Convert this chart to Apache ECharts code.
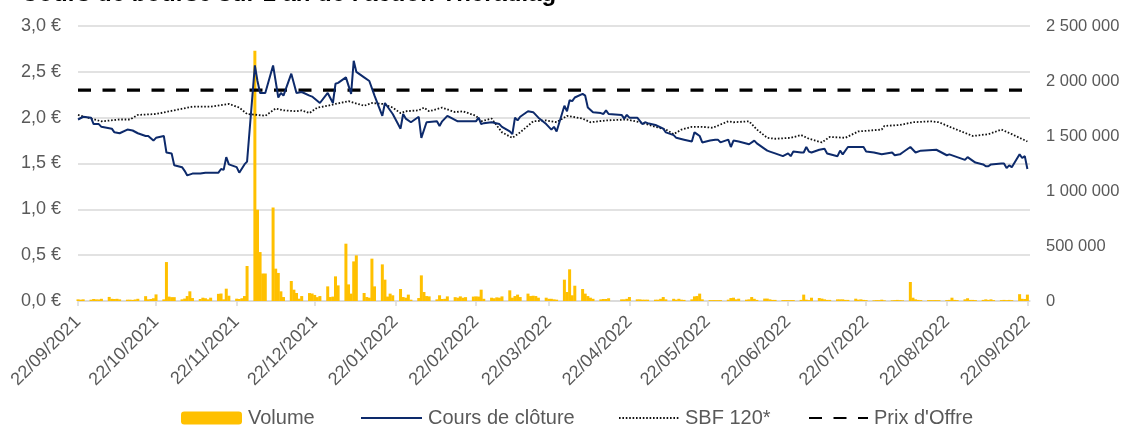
<!DOCTYPE html>
<html>
<head>
<meta charset="utf-8">
<script src="https://cdn.jsdelivr.net/npm/echarts@6/dist/echarts.min.js"></script>
<style>
  html, body { margin: 0; padding: 0; background: #fff; }
  #chart { width: 1131px; height: 426px; }
</style>
</head>
<body>
<div id="chart"></div>
<script>
// bornes de l'axe et jours fériés (Euronext)
const startDate = '2021-09-22'
const endDate = '2022-09-22'
const holidays = ['2022-04-15', '2022-04-18']
const tickDates = ['2021-09-22', '2021-10-22', '2021-11-22', '2021-12-22', '2022-01-22', '2022-02-22',
  '2022-03-22', '2022-04-22', '2022-05-22', '2022-06-22', '2022-07-22', '2022-08-22', '2022-09-22']

// volume journalier, une ligne par semaine
const volume = [
  15000, 12000, 15000,
  12000, 18000, 15000, 14000, 20000,
  37000, 20000, 18000, 20000, 15000,
  12000, 12000, 10000, 14000, 20000,
  44000, 15000, 18000, 25000, 60000,
  15000, 354000, 40000, 35000, 35000,
  15000, 22000, 45000, 88000, 27000,
  18000, 30000, 25000, 15000, 30000,
  65000, 68000, 15000, 112000, 48000,
  21000, 18000, 25000, 45000, 318000,
  2275000, 830000, 445000, 250000, 250000,
  850000, 294000, 255000, 88000, 36000,
  182000, 103000, 73000, 21000, 45000,
  72000, 68000, 55000, 35000, 45000,
  133000, 36000, 40000, 224000, 142000,
  521000, 151000, 67000, 360000, 415000,
  73000, 36000, 30000, 385000, 133000,
  333000, 194000, 40000, 67000, 52000,
  109000, 36000, 30000, 58000, 12000,
  27000, 233000, 82000, 45000, 42000,
  15000, 52000, 18000, 20000, 42000,
  35000, 30000, 42000, 30000, 35000,
  40000, 42000, 40000, 103000, 20000,
  30000, 25000, 33000, 30000, 42000,
  97000, 30000, 45000, 58000, 36000,
  67000, 45000, 48000, 45000, 30000,
  30000, 20000, 20000, 15000, 12000,
  194000, 82000, 288000, 52000, 139000,
  109000, 67000, 45000, 30000, 20000,
  15000, 18000, 18000, 25000,
  15000, 15000, 20000, 36000,
  15000, 15000, 12000, 12000, 12000,
  12000, 12000, 20000, 36000, 15000,
  20000, 12000, 20000, 12000, 10000,
  15000, 42000, 45000, 67000, 15000,
  8000, 8000, 8000, 8000, 8000,
  12000, 27000, 30000, 15000, 21000,
  12000, 15000, 36000, 20000, 10000,
  22000, 22000, 15000, 10000, 10000,
  8000, 8000, 8000, 8000, 8000,
  10000, 58000, 12000, 8000, 30000,
  27000, 22000, 15000, 10000, 10000,
  15000, 15000, 15000, 10000, 10000,
  21000, 12000, 15000, 10000, 8000,
  6000, 8000, 8000, 12000, 6000,
  6000, 8000, 10000, 8000, 6000,
  173000, 30000, 15000, 10000, 8000,
  8000, 8000, 8000, 8000, 8000,
  8000, 10000, 30000, 10000, 8000,
  15000, 25000, 10000, 10000, 8000,
  10000, 15000, 10000, 15000, 8000,
  8000, 10000, 8000, 10000, 8000,
  62000, 20000, 18000, 58000
]

// cours de clôture (points relevés)
const priceDates = [
  '2021-09-22', '2021-09-24', '2021-09-27', '2021-09-28', '2021-09-30', '2021-10-01', '2021-10-05', '2021-10-06',
  '2021-10-08', '2021-10-11', '2021-10-13', '2021-10-15', '2021-10-18', '2021-10-19', '2021-10-21', '2021-10-22',
  '2021-10-25', '2021-10-26', '2021-10-28', '2021-10-29', '2021-11-01', '2021-11-02', '2021-11-03', '2021-11-05',
  '2021-11-08', '2021-11-10', '2021-11-15', '2021-11-16', '2021-11-17', '2021-11-18', '2021-11-19', '2021-11-22',
  '2021-11-23', '2021-11-25', '2021-11-26', '2021-11-29', '2021-11-30', '2021-12-01', '2021-12-03', '2021-12-06',
  '2021-12-08', '2021-12-09', '2021-12-10', '2021-12-13', '2021-12-15', '2021-12-17', '2021-12-20', '2021-12-21',
  '2021-12-24', '2021-12-27', '2021-12-29', '2021-12-30', '2021-12-31', '2022-01-03', '2022-01-05', '2022-01-06',
  '2022-01-07', '2022-01-10', '2022-01-12', '2022-01-14', '2022-01-17', '2022-01-18', '2022-01-21', '2022-01-24',
  '2022-01-25', '2022-01-26', '2022-01-28', '2022-01-31', '2022-02-01', '2022-02-03', '2022-02-07', '2022-02-08',
  '2022-02-09', '2022-02-11', '2022-02-15', '2022-02-22', '2022-02-23', '2022-02-24', '2022-02-25', '2022-02-28',
  '2022-03-03', '2022-03-04', '2022-03-07', '2022-03-08', '2022-03-09', '2022-03-10', '2022-03-11', '2022-03-14',
  '2022-03-16', '2022-03-18', '2022-03-21', '2022-03-23', '2022-03-24', '2022-03-25', '2022-03-28', '2022-03-29',
  '2022-03-30', '2022-03-31', '2022-04-01', '2022-04-04', '2022-04-05', '2022-04-06', '2022-04-08', '2022-04-11',
  '2022-04-12', '2022-04-13', '2022-04-14', '2022-04-19', '2022-04-20', '2022-04-21', '2022-04-22', '2022-04-25',
  '2022-04-27', '2022-04-28', '2022-04-29', '2022-05-02', '2022-05-05', '2022-05-06', '2022-05-09', '2022-05-10',
  '2022-05-13', '2022-05-16', '2022-05-17', '2022-05-18', '2022-05-19', '2022-05-20', '2022-05-23', '2022-05-25',
  '2022-05-26', '2022-05-27', '2022-05-30', '2022-05-31', '2022-06-01', '2022-06-03', '2022-06-07', '2022-06-09',
  '2022-06-10', '2022-06-13', '2022-06-14', '2022-06-15', '2022-06-17', '2022-06-20', '2022-06-22', '2022-06-23',
  '2022-06-24', '2022-06-27', '2022-06-28', '2022-06-29', '2022-06-30', '2022-07-01', '2022-07-04', '2022-07-06',
  '2022-07-07', '2022-07-11', '2022-07-12', '2022-07-13', '2022-07-15', '2022-07-21', '2022-07-22', '2022-07-25',
  '2022-07-28', '2022-08-01', '2022-08-02', '2022-08-04', '2022-08-05', '2022-08-08', '2022-08-10', '2022-08-12',
  '2022-08-18', '2022-08-22', '2022-08-23', '2022-08-26', '2022-08-29', '2022-08-30', '2022-09-02', '2022-09-05',
  '2022-09-06', '2022-09-07', '2022-09-08', '2022-09-12', '2022-09-13', '2022-09-14', '2022-09-15', '2022-09-16',
  '2022-09-19', '2022-09-20', '2022-09-21', '2022-09-22'
]
const priceValues = [
  1.98, 2.01, 2.00, 1.93, 1.93, 1.90, 1.88, 1.84,
  1.83, 1.87, 1.86, 1.83, 1.80, 1.80, 1.75, 1.78,
  1.80, 1.62, 1.61, 1.48, 1.46, 1.42, 1.37, 1.39,
  1.39, 1.40, 1.40, 1.44, 1.43, 1.57, 1.49, 1.46,
  1.40, 1.49, 1.52, 2.57, 2.40, 2.27, 2.27, 2.57,
  2.22, 2.27, 2.24, 2.48, 2.27, 2.28, 2.24, 2.23,
  2.16, 2.27, 2.16, 2.37, 2.38, 2.44, 2.26, 2.62,
  2.50, 2.44, 2.40, 2.24, 2.02, 2.16, 2.04, 1.88,
  2.04, 1.99, 1.95, 2.01, 1.78, 1.95, 1.96, 1.91,
  1.96, 2.02, 1.96, 1.96, 2.00, 1.93, 1.94, 1.95,
  1.93, 1.90, 1.85, 1.82, 2.00, 1.97, 2.01, 2.07,
  2.06, 2.00, 1.93, 1.87, 1.90, 1.85, 2.13, 2.07,
  2.19, 2.18, 2.22, 2.26, 2.24, 2.11, 2.06, 2.05,
  2.04, 2.08, 2.04, 2.03, 1.99, 2.03, 2.00, 2.00,
  1.93, 1.95, 1.94, 1.92, 1.88, 1.84, 1.81, 1.78,
  1.76, 1.74, 1.84, 1.82, 1.80, 1.73, 1.75, 1.76,
  1.76, 1.73, 1.76, 1.68, 1.75, 1.74, 1.71, 1.75,
  1.72, 1.66, 1.64, 1.63, 1.61, 1.58, 1.61, 1.58,
  1.63, 1.62, 1.62, 1.68, 1.63, 1.62, 1.65, 1.66,
  1.61, 1.58, 1.64, 1.60, 1.68, 1.68, 1.63, 1.62,
  1.60, 1.62, 1.59, 1.60, 1.62, 1.68, 1.62, 1.64,
  1.65, 1.59, 1.60, 1.57, 1.54, 1.57, 1.51, 1.49,
  1.47, 1.47, 1.49, 1.50, 1.50, 1.45, 1.48, 1.46,
  1.60, 1.56, 1.58, 1.44
]

// SBF 120 rebasé
const sbfDates = [
  '2021-09-22', '2021-09-27', '2021-10-01', '2021-10-08', '2021-10-12', '2021-10-15', '2021-10-22', '2021-10-29',
  '2021-11-05', '2021-11-12', '2021-11-19', '2021-11-23', '2021-11-26', '2021-11-30', '2021-12-03', '2021-12-07',
  '2021-12-10', '2021-12-15', '2021-12-17', '2021-12-20', '2021-12-23', '2021-12-27', '2021-12-30', '2022-01-04',
  '2022-01-10', '2022-01-13', '2022-01-17', '2022-01-21', '2022-01-24', '2022-01-26', '2022-01-31', '2022-02-02',
  '2022-02-04', '2022-02-09', '2022-02-14', '2022-02-17', '2022-02-22', '2022-02-24', '2022-02-28', '2022-03-04',
  '2022-03-08', '2022-03-11', '2022-03-16', '2022-03-21', '2022-03-25', '2022-03-29', '2022-04-04', '2022-04-07',
  '2022-04-13', '2022-04-21', '2022-04-26', '2022-05-02', '2022-05-06', '2022-05-09', '2022-05-12', '2022-05-16',
  '2022-05-20', '2022-05-24', '2022-05-30', '2022-06-01', '2022-06-07', '2022-06-10', '2022-06-14', '2022-06-17',
  '2022-06-23', '2022-06-27', '2022-06-30', '2022-07-05', '2022-07-08', '2022-07-14', '2022-07-19', '2022-07-28',
  '2022-07-29', '2022-08-04', '2022-08-09', '2022-08-16', '2022-08-19', '2022-08-24', '2022-09-01', '2022-09-07',
  '2022-09-12', '2022-09-16', '2022-09-22'
]
const sbfValues = [
  2.03, 1.99, 1.96, 1.98, 1.98, 2.03, 2.04, 2.08,
  2.12, 2.12, 2.15, 2.11, 2.04, 2.03, 2.02, 2.10,
  2.08, 2.07, 2.08, 2.05, 2.11, 2.13, 2.15, 2.18,
  2.13, 2.16, 2.15, 2.11, 2.05, 2.07, 2.08, 2.11,
  2.07, 2.11, 2.06, 2.07, 2.02, 1.96, 1.99, 1.84,
  1.78, 1.84, 1.96, 1.97, 1.95, 2.02, 1.99, 1.95,
  1.97, 1.98, 1.95, 1.90, 1.87, 1.82, 1.87, 1.90,
  1.90, 1.89, 1.96, 1.95, 1.96, 1.87, 1.78, 1.77,
  1.78, 1.81, 1.77, 1.73, 1.79, 1.78, 1.85, 1.87,
  1.91, 1.92, 1.95, 1.96, 1.95, 1.89, 1.80, 1.82,
  1.87, 1.82, 1.74
]

const offerPrice = 2.30

function pad(n) {
  return n < 10 ? '0' + n : '' + n
}
function fmtIso(d) {
  return d.getFullYear() + '-' + pad(d.getMonth() + 1) + '-' + pad(d.getDate())
}
// jours de bourse : jours ouvrés hors fériés
function tradingDays(from, to, skip) {
  const out = []
  const d = new Date(from + 'T00:00:00')
  const last = new Date(to + 'T00:00:00')
  while (d <= last) {
    const wd = d.getDay()
    const iso = fmtIso(d)
    if (wd !== 0 && wd !== 6 && skip.indexOf(iso) < 0) out.push(iso)
    d.setDate(d.getDate() + 1)
  }
  return out
}
function ts(iso) {
  return new Date(iso + 'T00:00:00').getTime()
}

const days = tradingDays(startDate, endDate, holidays)
const volumeData = days.map((d, i) => [ts(d), volume[i]])
const priceData = priceDates.map((d, i) => [ts(d), priceValues[i]])
const sbfData = sbfDates.map((d, i) => [ts(d), sbfValues[i]])
const offerData = [[ts(startDate), offerPrice], [ts('2022-09-23'), offerPrice]]
const tickTs = tickDates.map(ts)

const font = 'Arial, "Liberation Sans", sans-serif'
const grey = '#595959'
const gridGrey = '#d9d9d9'

const chart = echarts.init(document.getElementById('chart'))

// une légende par entrée, placée comme dans Excel
function legendAt(name, left, w, isLine) {
  const lg = {
    data: [name],
    left: left,
    top: 408,
    padding: 0,
    itemWidth: w,
    itemHeight: 13,
    itemGap: 0,
    textStyle: { fontFamily: font, fontSize: 20, color: grey, padding: [0, 0, 0, 1] }
  }
  if (isLine) lg.itemStyle = { opacity: 0 }
  return lg
}

chart.setOption({
  animation: false,
  textStyle: { fontFamily: font },
  title: {
    text: "Cours de bourse sur 1 an de l'action Theradiag",
    left: 21,
    top: -18,
    padding: 0,
    textStyle: { fontFamily: font, fontSize: 24, fontWeight: 'bold', color: '#000' }
  },
  legend: [
    legendAt('Volume', 181, 61, false),
    legendAt('Cours de clôture', 360, 61, true),
    legendAt('SBF 120*', 618, 60, true),
    legendAt("Prix d'Offre", 808, 59, true)
  ],
  grid: { left: 78, right: 101, top: 26, bottom: 125 },
  xAxis: {
    type: 'value',
    min: ts(startDate),
    max: ts('2022-09-23'),
    splitLine: { show: false },
    axisLine: { lineStyle: { color: gridGrey, width: 1.5 } },
    axisTick: { show: true, customValues: tickTs, length: 5, lineStyle: { color: gridGrey, width: 1.5 } },
    axisLabel: {
      customValues: tickTs,
      rotate: 45,
      margin: 18,
      fontSize: 18,
      color: grey,
      fontFamily: font,
      formatter(v) {
        const d = new Date(v)
        return pad(d.getDate()) + '/' + pad(d.getMonth() + 1) + '/' + d.getFullYear()
      }
    }
  },
  yAxis: [
    {
      type: 'value',
      min: 0,
      max: 3,
      interval: 0.5,
      axisLine: { show: false },
      axisTick: { show: false },
      splitLine: { lineStyle: { color: gridGrey, width: 1.5 } },
      axisLabel: {
        margin: 17,
        fontSize: 18,
        color: grey,
        fontFamily: font,
        formatter(v) {
          return v.toFixed(1).replace('.', ',') + ' €'
        }
      }
    },
    {
      type: 'value',
      min: 0,
      max: 2500000,
      interval: 500000,
      axisLine: { show: false },
      axisTick: { show: false },
      splitLine: { show: false },
      axisLabel: {
        margin: 16,
        fontSize: 16.5,
        color: grey,
        fontFamily: font,
        formatter(v) {
          return String(v).replace(/\B(?=(\d{3})+(?!\d))/g, ' ')
        }
      }
    }
  ],
  series: [
    {
      name: 'Volume',
      type: 'bar',
      yAxisIndex: 1,
      barWidth: 3,
      itemStyle: { color: '#FFC000' },
      data: volumeData,
      z: 1
    },
    {
      name: 'Cours de clôture',
      type: 'line',
      symbol: 'none',
      lineStyle: { color: '#0d2a6b', width: 2 },
      itemStyle: { color: '#0d2a6b' },
      data: priceData,
      z: 4
    },
    {
      name: 'SBF 120*',
      type: 'line',
      symbol: 'none',
      lineStyle: { color: '#111', width: 1.8, type: [1.6, 1.8] },
      itemStyle: { color: '#111' },
      data: sbfData,
      z: 3
    },
    {
      name: "Prix d'Offre",
      type: 'line',
      symbol: 'none',
      lineStyle: { color: '#000', width: 3.2, type: [13, 11.5] },
      itemStyle: { color: '#000' },
      data: offerData,
      z: 2
    }
  ]
})
</script>
</body>
</html>
